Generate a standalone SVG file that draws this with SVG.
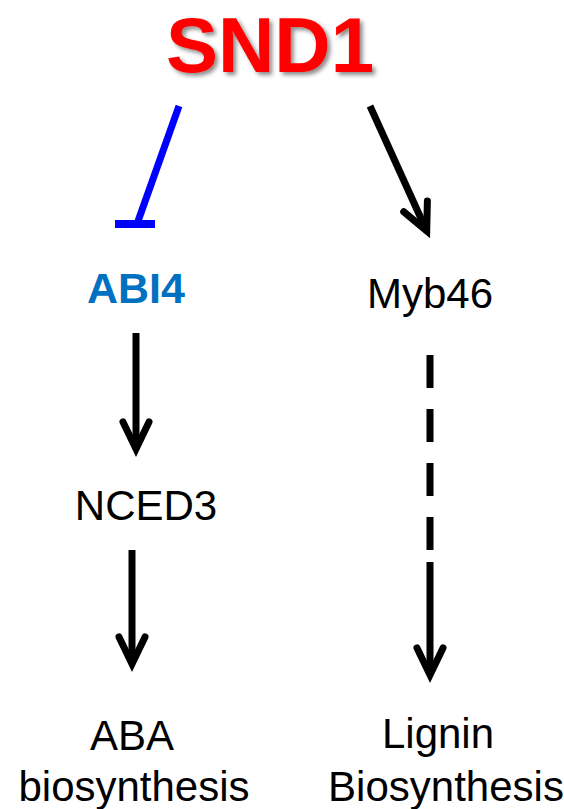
<svg xmlns="http://www.w3.org/2000/svg" width="564" height="809" viewBox="0 0 564 809">
<style>
.lbl{font-family:"Liberation Sans",Arial,sans-serif;font-size:42px;fill:#000;text-anchor:middle}
.blk{fill:none;stroke:#000;stroke-width:7}
</style>
<defs>
<filter id="sh" x="-10%" y="-10%" width="130%" height="140%">
<feDropShadow dx="3" dy="3" stdDeviation="2" flood-color="#000" flood-opacity="0.45"/>
</filter>
<marker id="arr" markerUnits="userSpaceOnUse" orient="auto" refX="0" refY="0" markerWidth="1" markerHeight="1" overflow="visible">
<path d="M-27,-13 L0,0 L-27,13" fill="none" stroke="#000" stroke-width="7" stroke-linecap="round" stroke-linejoin="miter"/>
</marker>
</defs>
<rect width="564" height="809" fill="#fff"/>
<g id="SND1"><text x="270" y="72" font-family="Liberation Sans,Arial,sans-serif" font-weight="bold" font-size="78" fill="#FF0000" text-anchor="middle" filter="url(#sh)">SND1</text></g>
<g id="ABI4"><text x="136" y="303" font-family="Liberation Sans,Arial,sans-serif" font-weight="bold" font-size="43" fill="#0070C0" text-anchor="middle">ABI4</text></g>
<g id="Myb46"><text class="lbl" x="430" y="308">Myb46</text></g>
<g id="NCED3"><text class="lbl" x="146" y="520">NCED3</text></g>
<g id="ABA"><text class="lbl" x="132" y="750">ABA</text><text class="lbl" x="134" y="801">biosynthesis</text></g>
<g id="Lignin"><text class="lbl" x="438" y="748">Lignin</text><text class="lbl" x="446" y="801">Biosynthesis</text></g>
<g id="connectors">
<line x1="179" y1="106" x2="137" y2="224" stroke="#0000FF" stroke-width="7"/>
<line x1="115" y1="224" x2="155" y2="224" stroke="#0000FF" stroke-width="8"/>
<line class="blk" x1="370" y1="106" x2="426.7" y2="231" marker-end="url(#arr)"/>
<line class="blk" x1="136" y1="333" x2="136" y2="449" marker-end="url(#arr)"/>
<line class="blk" x1="132" y1="550" x2="132" y2="664" marker-end="url(#arr)"/>
<line class="blk" x1="430" y1="355" x2="430" y2="675" stroke-dasharray="33 21 33 21 33 21 33 12 200" marker-end="url(#arr)"/>
</g>
</svg>
